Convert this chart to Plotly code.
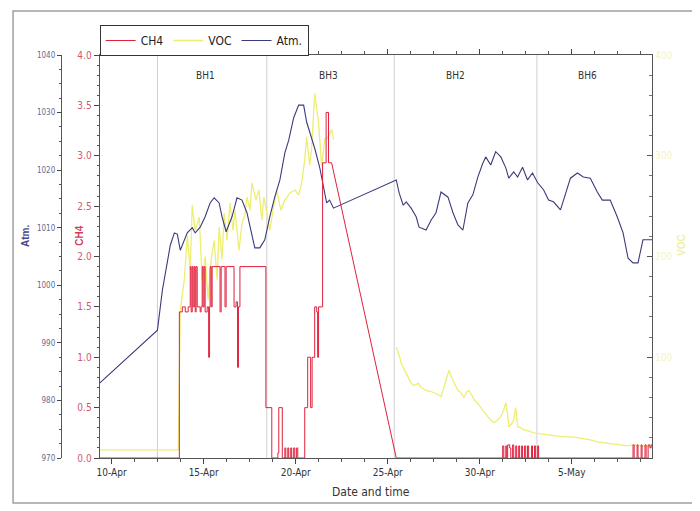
import pandas as pd
import plotly.graph_objects as go

BASE = pd.Timestamp("2010-04-10")

# Atmospheric pressure (days since 10-Apr, value)
atm_day = [-0.65, 2.49, 2.76, 3.03, 3.19, 3.41, 3.57, 3.73, 3.95, 4.11, 4.38, 4.54, 4.81, 5.08, 5.35,
           5.57, 5.84, 6.00, 6.22, 6.54, 6.81, 7.08, 7.35, 7.62, 7.78, 8.05, 8.32, 8.59, 8.86, 9.14,
           9.41, 9.62, 9.89, 10.16, 10.43, 10.59, 10.86, 11.03, 11.30, 11.51, 11.68, 11.84, 12.05,
           15.46, 15.62, 15.84, 16.00, 16.27, 16.54, 16.70, 17.08, 17.35, 17.62, 17.89, 18.27, 18.54,
           18.81, 19.08, 19.35, 19.62, 19.89, 20.16, 20.32, 20.59, 20.86, 21.14, 21.41, 21.57, 21.84,
           22.05, 22.32, 22.59, 22.86, 23.14, 23.46, 23.73, 24.00, 24.38, 24.65, 24.92, 25.30, 25.62,
           26.00, 26.38, 26.65, 27.08, 27.46, 27.78, 28.05, 28.32, 28.59, 28.86, 29.14, 29.35]
atm_val = [983.0, 992.2, 999.2, 1004.4, 1007.0, 1009.1, 1008.9, 1006.1, 1007.9, 1009.1, 1010.0, 1009.1,
           1010.1, 1011.9, 1014.3, 1015.2, 1014.3, 1011.9, 1009.3, 1011.9, 1015.2, 1014.8, 1012.6, 1009.1,
           1006.5, 1006.5, 1007.9, 1011.9, 1015.3, 1018.3, 1023.0, 1025.2, 1029.1, 1031.3, 1031.3, 1028.4,
           1025.8, 1023.8, 1020.5, 1016.9, 1014.3, 1014.8, 1013.4,
           1018.3, 1016.0, 1013.9, 1014.5, 1013.4, 1011.9, 1010.1, 1009.6, 1011.3, 1012.6, 1016.2, 1015.3,
           1012.6, 1010.5, 1009.6, 1014.3, 1015.7, 1018.8, 1021.2, 1022.3, 1020.9, 1023.2, 1022.3, 1020.4,
           1018.6, 1019.7, 1018.8, 1020.5, 1018.3, 1019.5, 1017.8, 1016.6, 1014.8, 1014.5, 1013.1, 1016.0,
           1018.6, 1019.5, 1018.8, 1018.6, 1016.2, 1014.8, 1014.8, 1011.9, 1009.1, 1004.7, 1003.9, 1003.9,
           1007.9, 1007.9, 1007.9]

# CH4 (step data, None = no readings)
ch4_day = [-0.65, 3.68, 3.84, 4.00, 4.16, 4.27, 4.32, 4.38, 4.43, 4.49, 4.54, 4.59, 4.65, 4.81, 4.86,
           4.92, 4.97, 5.03, 5.08, 5.19, 5.27, 5.32, 5.35, 5.41, 5.46, 5.89, 5.95, 6.16, 6.22, 6.65,
           6.76, 6.84, 6.89, 6.97, 8.38, 8.70, 9.03, 9.08, 9.27, 9.41, 9.46, 9.57, 9.62, 9.73, 9.78,
           9.89, 9.95, 10.05, 10.11, 10.49, 10.65, 10.81, 10.89, 11.03, 11.14, 11.19, 11.24, 11.46,
           11.65, 11.78, 11.95, 13.0,
           15.46, 21.24, 21.30, 21.41, 21.46, 21.51, 21.62, 21.68, 21.78, 21.84, 21.95, 22.00, 22.11,
           22.16, 22.27, 22.32, 22.43, 22.49, 22.59, 22.65, 22.81, 22.86, 22.97, 23.03, 23.14, 23.19,
           28.32, 28.38, 28.54, 28.59, 28.76, 28.81, 28.97, 29.03, 29.14, 29.24, 29.30, 29.35]
ch4_val = [0.0, 1.45, 1.5, 1.45, 1.5, 1.9, 1.45, 1.9, 1.5, 1.9, 1.45, 1.9, 1.5, 1.45, 1.5,
           1.9, 1.5, 1.9, 1.45, 1.5, 1.0, 1.5, 1.9, 1.5, 1.9, 1.45, 1.9, 1.5, 1.9, 1.5,
           1.55, 0.9, 1.5, 1.9, 0.5, 0.0, 0.05, 0.5, 0.0, 0.1, 0.0, 0.1, 0.0, 0.1, 0.0,
           0.1, 0.0, 0.1, 0.0, 0.5, 1.0, 0.5, 1.0, 1.5, 1.45, 1.0, 1.5, 2.93,
           3.43, 2.93, 2.93, None,
           0.0, 0.12, 0.0, 0.12, 0.0, 0.13, 0.1, 0.0, 0.13, 0.0, 0.12, 0.0, 0.12,
           0.0, 0.12, 0.0, 0.12, 0.0, 0.12, 0.0, 0.12, 0.0, 0.12, 0.0, 0.12, 0.0,
           0.13, 0.0, 0.13, 0.0, 0.13, 0.0, 0.13, 0.0, 0.13, 0.1, 0.13, 0.13]
ch4_gap_day = [11.95, 15.46]
ch4_gap_val = [2.93, 0.0]

# VOC
voc_day = [-0.65, 3.62, 3.73, 3.95, 4.11, 4.27, 4.38, 4.54, 4.76, 4.92, 5.08, 5.24, 5.41, 5.57, 5.73,
           5.84, 6.00, 6.11, 6.27, 6.43, 6.59, 6.70, 6.92, 7.08, 7.24, 7.35, 7.51, 7.62, 7.84, 8.00,
           8.16, 8.27, 8.43, 8.59, 8.81, 8.97, 9.19, 9.41, 9.68, 9.95, 10.16, 10.32, 10.49, 10.59,
           10.76, 10.86, 11.03, 11.14, 11.24, 11.41, 11.57, 11.78, 11.95, 12.05, 13.0,
           15.46, 15.62, 15.73, 15.95, 16.11, 16.27, 16.43, 16.65, 16.81, 17.08, 17.35, 17.62, 17.89,
           18.05, 18.22, 18.32, 18.54, 18.70, 18.81, 18.97, 19.14, 19.30, 19.41, 19.57, 19.68, 19.89,
           20.05, 20.27, 20.43, 20.59, 20.76, 20.92, 21.14, 21.30, 21.41, 21.51, 21.57, 21.73, 21.84,
           21.95, 22.05, 22.22, 22.38, 22.65, 22.92, 23.30, 23.68, 24.11, 24.54, 25.03, 25.46, 26.00,
           26.38, 26.81, 27.24, 27.62, 28.00, 28.32, 28.70, 29.08, 29.35]
voc_val = [8, 8, 147, 177, 221, 187, 251, 226, 239, 177, 200, 157, 197, 216, 177,
           229, 197, 243, 216, 253, 226, 246, 206, 233, 241, 259, 246, 273, 256, 266,
           236, 259, 243, 226, 251, 266, 246, 256, 263, 266, 261, 273, 296, 319,
           291, 306, 362, 345, 333, 289, 316, 319, 326, 316, None,
           110, 102, 94, 85, 80, 74, 72, 74, 70, 67, 66, 64, 61,
           70, 82, 87, 77, 71, 67, 65, 60, 66, 67, 62, 58, 54,
           50, 45, 41, 38, 35, 37, 41, 48, 55, 43, 31, 34, 38,
           50, 31, 30, 28, 27, 25, 24, 23, 22, 21, 21, 20, 18,
           16, 15, 14, 13, 12, 13, 12, 11, 11]

# Borehole sections
section_day = [2.49, 8.43, 15.35, 23.10]
section_label = ["BH1", "BH3", "BH2", "BH6"]
section_label_day = [5.08, 11.78, 18.70, 25.84]


def to_time(days):
    return [BASE + pd.to_timedelta(d, unit="D") for d in days]


NARROW = "Liberation Sans Narrow, DejaVu Sans Condensed, Arial Narrow, sans-serif"
RED = "#e0203c"
NAVY = "#3b3b7c"
YEL = "#eeee70"

fig = go.Figure()
fig.add_trace(go.Scatter(x=to_time(voc_day), y=voc_val, name="VOC", mode="lines",
                         line=dict(color=YEL, width=1.3), yaxis="y", legendrank=2,
                         connectgaps=False))
fig.add_trace(go.Scatter(x=to_time(atm_day), y=atm_val, name="Atm.", mode="lines",
                         line=dict(color=NAVY, width=1.1), yaxis="y2", legendrank=3))
fig.add_trace(go.Scatter(x=to_time(ch4_day), y=ch4_val, name="CH4", mode="lines",
                         line=dict(color=RED, width=1.0, shape="hv"), yaxis="y3",
                         legendrank=1, connectgaps=False))
fig.add_trace(go.Scatter(x=to_time(ch4_gap_day), y=ch4_gap_val, mode="lines", showlegend=False,
                         line=dict(color=RED, width=1.0), yaxis="y3", hoverinfo="skip"))

# page body adds an 8 px offset; margins are set so the plot lands at screen x 97..652, y 55..458
L, R, T, B = 12, 56, 47, 61
W = 700 - L - R
xd0 = (97 - 20) / W


def px(X):
    return (X - 20) / W


def py(Y):
    return (458 - Y) / 403


shapes = []
for d in section_day:
    t = BASE + pd.to_timedelta(d, unit="D")
    shapes.append(dict(type="line", xref="x", yref="paper", x0=t, x1=t, y0=0, y1=1,
                       line=dict(color="#cfcfcf", width=1), layer="below"))
shapes.append(dict(type="rect", xref="paper", yref="paper",
                   x0=px(10), x1=px(695), y0=py(503), y1=py(11),
                   line=dict(color="#a0a0a0", width=1.5)))

annotations = []
for lab, d in zip(section_label, section_label_day):
    annotations.append(dict(x=BASE + pd.to_timedelta(d, unit="D"), y=3.80, xref="x", yref="y3",
                            text=lab, showarrow=False,
                            font=dict(family=NARROW, size=10, color="#333333")))
annotations += [
    dict(x=px(370), y=py(492), xref="paper", yref="paper", text="Date and time",
         xanchor="center", yanchor="middle",
         showarrow=False, font=dict(family=NARROW, size=12, color="#333333")),
    dict(x=px(22), y=py(236), xref="paper", yref="paper", text="<b>Atm.</b>",
         xanchor="center", yanchor="middle",
         textangle=-90, showarrow=False, font=dict(family="Liberation Sans, sans-serif", size=10, color="#4a4a8a")),
    dict(x=px(76), y=py(236), xref="paper", yref="paper", text="<b>CH4</b>",
         xanchor="center", yanchor="middle",
         textangle=-90, showarrow=False, font=dict(family="Liberation Sans, sans-serif", size=10, color="#d0405a")),
    dict(x=px(681), y=py(245), xref="paper", yref="paper", text="<b>VOC</b>",
         xanchor="center", yanchor="middle",
         textangle=-90, showarrow=False, font=dict(family="Liberation Sans, sans-serif", size=10, color="#f0f0a8")),
]

fig.update_layout(
    width=700, height=511,
    margin=dict(l=L, r=R, t=T, b=B),
    paper_bgcolor="white", plot_bgcolor="white",
    font=dict(family=NARROW, size=10),
    showlegend=True,
    legend=dict(orientation="h", x=xd0, y=py(25), xanchor="left", yanchor="top",
                bordercolor="#333333", borderwidth=1, bgcolor="white",
                font=dict(family=NARROW, size=12, color="#222222"),
                itemwidth=30, tracegroupgap=0),
    xaxis=dict(domain=[xd0, 1], type="date",
               range=[BASE + pd.to_timedelta(-0.65, unit="D"), BASE + pd.to_timedelta(29.35, unit="D")],
               tick0=BASE, dtick=5 * 86400000, tickformat="%-d-%b",
               ticks="outside", ticklen=5, tickcolor="#444", showline=True, linecolor="#555",
               linewidth=1, mirror="ticks", showgrid=False, zeroline=False,
               tickfont=dict(family=NARROW, size=10, color="#333"),
               minor=dict(dtick=1.25 * 86400000, tick0=BASE, ticks="outside", ticklen=3,
                          tickcolor="#555", showgrid=False)),
    yaxis=dict(range=[0, 400], side="right", anchor="x", tickvals=[100, 200, 300, 400],
               ticks="inside", ticklen=5, tickcolor="#555", showline=True, linecolor="#555",
               showgrid=False, zeroline=False,
               tickfont=dict(family=NARROW, size=10, color="#f4f4c4"),
               minor=dict(dtick=20, ticks="inside", ticklen=3, tickcolor="#777", showgrid=False)),
    yaxis2=dict(range=[970, 1040], dtick=10, overlaying="y", side="left", anchor="free",
                position=px(58), ticks="outside", ticklen=4, tickcolor="#444",
                showline=True, linecolor="#555", showgrid=False, zeroline=False,
                tickfont=dict(family=NARROW, size=8, color="#6a6a90"),
                minor=dict(dtick=2.5, ticks="outside", ticklen=2, tickcolor="#555", showgrid=False)),
    yaxis3=dict(range=[0, 4], dtick=0.5, tickformat=".1f", overlaying="y", side="left", anchor="x",
                ticks="outside", ticklen=5, tickcolor="#444", showline=True, linecolor="#555",
                showgrid=False, zeroline=False,
                tickfont=dict(family=NARROW, size=10, color="#d05a70"),
                minor=dict(dtick=0.1, ticks="outside", ticklen=2, tickcolor="#555", showgrid=False)),
    shapes=shapes,
    annotations=annotations,
)

fig.write_html("out.html")
